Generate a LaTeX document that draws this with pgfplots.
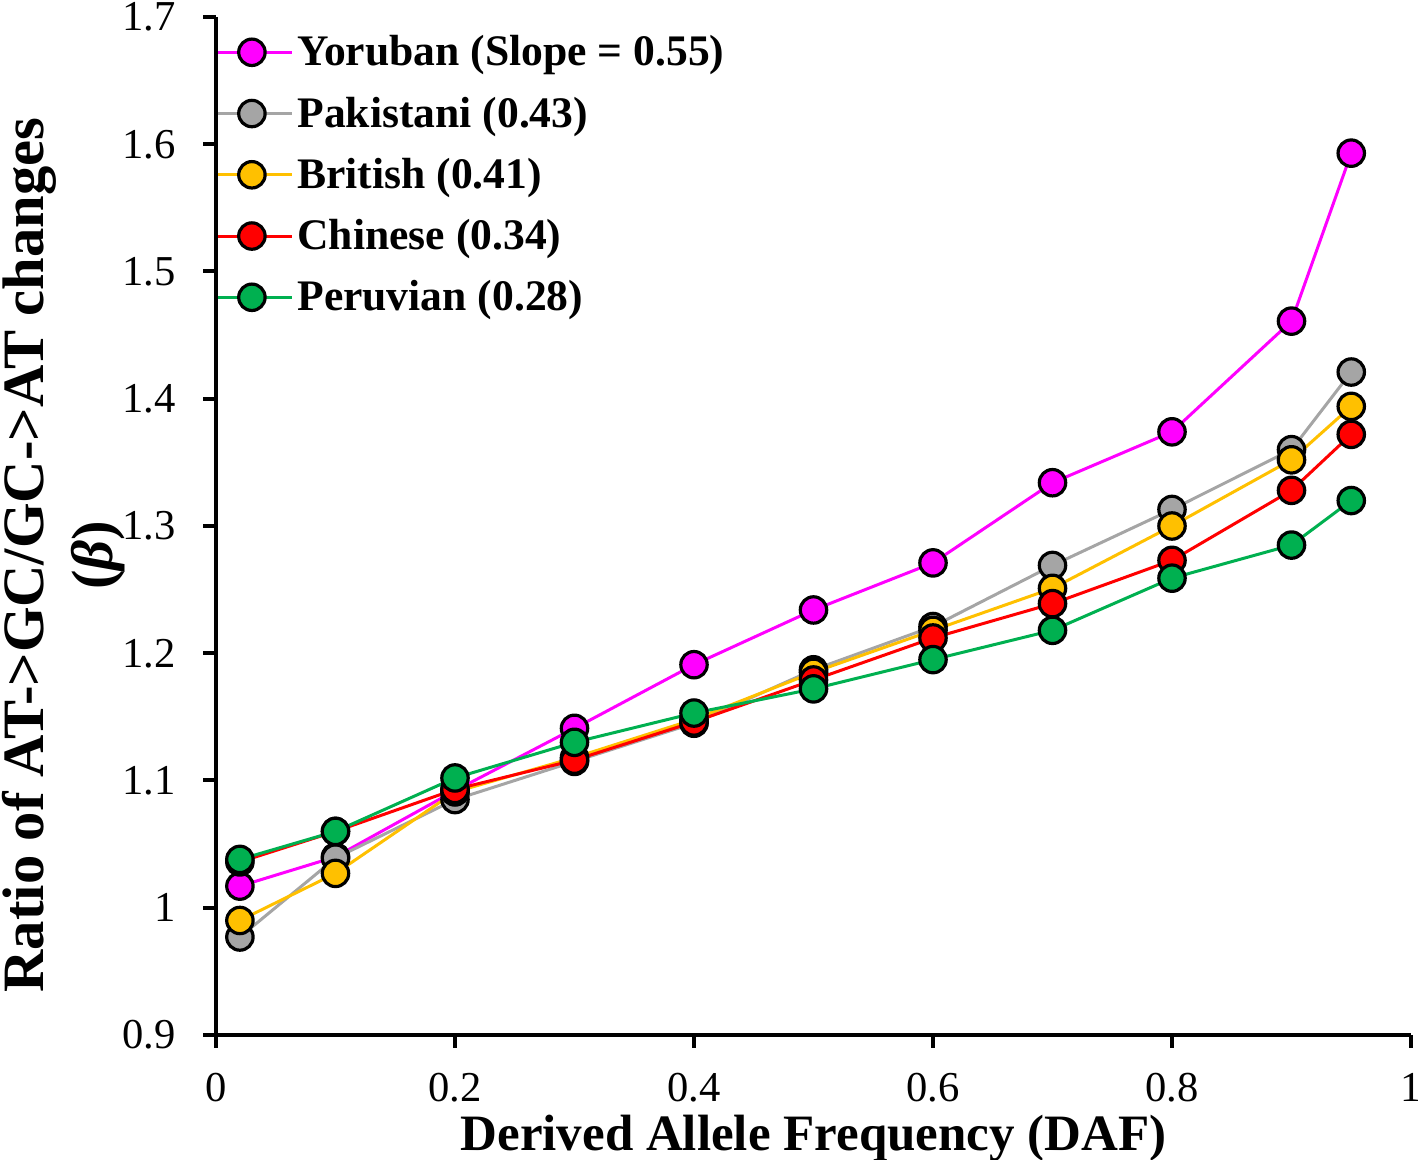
\documentclass[border=0pt]{standalone}
\usepackage{fontspec}
\setmainfont{Liberation Serif}
\usepackage{pgfplots}
\pgfplotsset{compat=1.18}
\definecolor{cY}{HTML}{FF00FF}
\definecolor{cP}{HTML}{A5A5A5}
\definecolor{cB}{HTML}{FFC000}
\definecolor{cC}{HTML}{FF0000}
\definecolor{cR}{HTML}{00B050}
\begin{document}
\begin{tikzpicture}
\useasboundingbox (-108pt,-62.5pt) rectangle (601pt,517.5pt);
\begin{axis}[
  at={(0,0)}, anchor=south west,
  scale only axis, width=597.5pt, height=509pt,
  xmin=0, xmax=1, ymin=0.9, ymax=1.7,
  clip=false,
  axis lines=left,
  axis line style={-, line width=2pt, black},
  xtick={0,0.2,0.4,0.6,0.8,1},
  ytick={0.9,1,1.1,1.2,1.3,1.4,1.5,1.6,1.7},
  tick align=outside,
  major tick length=6.5pt,
  tick style={line width=2pt, black},
  /pgf/number format/.cd, fixed, precision=1, assume math mode=true,
  /pgfplots/.cd,
  ticklabel style={font=\fontsize{21.3}{25}\selectfont, inner sep=0pt},
  yticklabel style={xshift=-13.5pt},
  xticklabel style={yshift=-12.5pt},
  xlabel={\textbf{Derived Allele Frequency (DAF)}},
  xlabel style={font=\fontsize{25.5}{30}\selectfont, at={(axis description cs:0.5,-0.113)}, anchor=base, inner sep=0pt},
  ylabel={\textbf{Ratio of AT->GC/GC->AT changes}\\\textbf{(\textit{β})}},
  ylabel style={font=\fontsize{29.3}{34.5}\selectfont, align=center, at={(axis description cs:-0.1792,0.4715)}, anchor=north, inner sep=0pt},
  legend style={at={(axis description cs:0,0.986)}, anchor=north west, draw=none, fill=none,
    inner xsep=0pt, inner ysep=0pt, row sep=10pt,
    font=\fontsize{21.8}{25}\selectfont, cells={anchor=west}},
  legend image code/.code={\draw[mark repeat=2, mark phase=2] plot coordinates {(0pt,0pt)(17pt,0pt)(37pt,0pt)};},
  every axis plot/.append style={line width=1.5pt, mark=*, mark size=6.6pt},
]
\addplot[color=cY, mark options={draw=black, fill=cY, line width=1.6pt}] coordinates {
(0.02,1.017)(0.1,1.040)(0.2,1.092)(0.3,1.141)(0.4,1.191)(0.5,1.234)(0.6,1.271)(0.7,1.334)(0.8,1.374)(0.9,1.461)(0.95,1.593)};
\addlegendentry{\textbf{Yoruban (Slope = 0.55)}}
\addplot[color=cP, mark options={draw=black, fill=cP, line width=1.6pt}] coordinates {
(0.02,0.977)(0.1,1.039)(0.2,1.085)(0.3,1.115)(0.4,1.145)(0.5,1.187)(0.6,1.221)(0.7,1.269)(0.8,1.313)(0.9,1.360)(0.95,1.421)};
\addlegendentry{\textbf{Pakistani (0.43)}}
\addplot[color=cB, mark options={draw=black, fill=cB, line width=1.6pt}] coordinates {
(0.02,0.990)(0.1,1.027)(0.2,1.091)(0.3,1.118)(0.4,1.148)(0.5,1.185)(0.6,1.218)(0.7,1.251)(0.8,1.300)(0.9,1.352)(0.95,1.394)};
\addlegendentry{\textbf{British (0.41)}}
\addplot[color=cC, mark options={draw=black, fill=cC, line width=1.6pt}] coordinates {
(0.02,1.036)(0.1,1.060)(0.2,1.093)(0.3,1.116)(0.4,1.146)(0.5,1.179)(0.6,1.212)(0.7,1.239)(0.8,1.273)(0.9,1.328)(0.95,1.372)};
\addlegendentry{\textbf{Chinese (0.34)}}
\addplot[color=cR, mark options={draw=black, fill=cR, line width=1.6pt}] coordinates {
(0.02,1.038)(0.1,1.060)(0.2,1.102)(0.3,1.130)(0.4,1.153)(0.5,1.172)(0.6,1.195)(0.7,1.218)(0.8,1.259)(0.9,1.285)(0.95,1.320)};
\addlegendentry{\textbf{Peruvian (0.28)}}
\end{axis}
\end{tikzpicture}
\end{document}
